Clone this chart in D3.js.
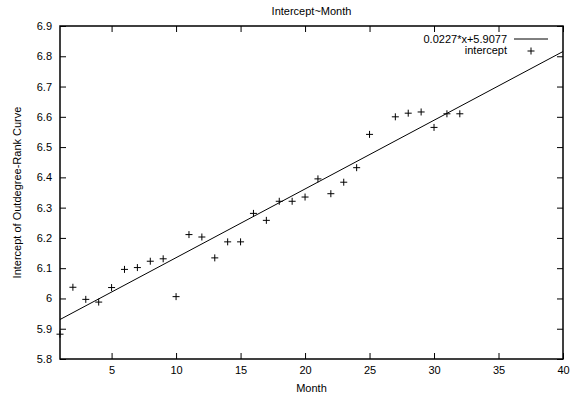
<!DOCTYPE html>
<html>
<head>
<meta charset="utf-8">
<script src="https://cdn.jsdelivr.net/npm/d3@7"></script>
<style>
  body { margin: 0; background: #fff; }
  svg text { font-family: "Liberation Sans", Arial, sans-serif; font-size: 11px; fill: #000; }
</style>
</head>
<body>
<svg id="chart" width="573" height="396"></svg>
<script>
// months and fitted intercepts
var months = [1, 2, 3, 4, 5, 6, 7, 8, 9, 10, 11, 12, 13, 14, 15, 16, 17, 18, 19, 20, 21, 22, 23, 24, 25, 27, 28, 29, 30, 31, 32];
var intercepts = [5.882, 6.037, 5.997, 5.988, 6.036, 6.096, 6.102, 6.123, 6.131, 6.006, 6.211, 6.203, 6.134, 6.187, 6.187, 6.281, 6.258, 6.321, 6.321, 6.335, 6.395, 6.346, 6.384, 6.432, 6.542, 6.600, 6.612, 6.616, 6.565, 6.610, 6.610];
var fitSlope = 0.0227,
    fitIntercept = 5.9077;
var xTicks = [5, 10, 15, 20, 25, 30, 35, 40];
var yTicks = [5.8, 5.9, 6, 6.1, 6.2, 6.3, 6.4, 6.5, 6.6, 6.7, 6.8, 6.9];

(function() {
    var svg = d3.select('#chart'),
        pLeft = 60, pRight = 563, pTop = 26, pBottom = 359,
        tick = 6;

    var x = d3.scaleLinear().domain([1, 40]).range([pLeft, pRight]),
        y = d3.scaleLinear().domain([5.8, 6.9]).range([pBottom, pTop]);

    var fmt = function(v) { return String(+v.toFixed(1)); };

    // axes, gnuplot style: ticks mirrored inside the box
    svg.append('g').attr('transform', 'translate(0,' + pBottom + ')')
        .call(d3.axisBottom(x).tickValues(xTicks).tickSizeInner(-tick).tickSizeOuter(0).tickPadding(7).tickFormat(d3.format('d')));
    svg.append('g').attr('transform', 'translate(0,' + pTop + ')')
        .call(d3.axisTop(x).tickValues(xTicks).tickSizeInner(-tick).tickSizeOuter(0).tickFormat(''));
    svg.append('g').attr('transform', 'translate(' + pLeft + ',0)')
        .call(d3.axisLeft(y).tickValues(yTicks).tickSizeInner(-tick).tickSizeOuter(0).tickPadding(8).tickFormat(fmt));
    svg.append('g').attr('transform', 'translate(' + pRight + ',0)')
        .call(d3.axisRight(y).tickValues(yTicks).tickSizeInner(-tick).tickSizeOuter(0).tickFormat(''));

    svg.selectAll('.domain').remove();
    svg.selectAll('.tick line').attr('stroke', '#000').attr('stroke-width', 1);
    svg.selectAll('.tick text').attr('font-family', null).attr('font-size', null);

    svg.append('rect')
        .attr('x', pLeft).attr('y', pTop)
        .attr('width', pRight - pLeft).attr('height', pBottom - pTop)
        .attr('fill', 'none').attr('stroke', '#000').attr('stroke-width', 1.5);

    // fit line
    svg.append('line')
        .attr('x1', x(1)).attr('y1', y(fitSlope * 1 + fitIntercept))
        .attr('x2', x(40)).attr('y2', y(fitSlope * 40 + fitIntercept))
        .attr('stroke', '#000').attr('stroke-width', 1);

    // plus markers
    var plus = function(sel) {
        sel.append('line').attr('x1', -3.5).attr('x2', 3.5).attr('y1', 0).attr('y2', 0);
        sel.append('line').attr('x1', 0).attr('x2', 0).attr('y1', -3.5).attr('y2', 3.5);
    };
    svg.append('g').attr('stroke', '#000').attr('stroke-width', 1)
        .selectAll('g').data(months).enter().append('g')
        .attr('transform', function(d, i) { return 'translate(' + x(d) + ',' + y(intercepts[i]) + ')'; })
        .call(plus);

    // legend
    var legend = svg.append('g');
    legend.append('text').attr('x', 507).attr('y', 43).attr('text-anchor', 'end')
        .text(fitSlope + '*x+' + fitIntercept);
    legend.append('line').attr('x1', 514).attr('x2', 548).attr('y1', 39).attr('y2', 39)
        .attr('stroke', '#000').attr('stroke-width', 1);
    legend.append('text').attr('x', 507).attr('y', 54).attr('text-anchor', 'end').text('intercept');
    legend.append('g').attr('transform', 'translate(531,51)')
        .attr('stroke', '#000').attr('stroke-width', 1).call(plus);

    // titles
    svg.append('text').attr('x', (pLeft + pRight) / 2).attr('y', 15).attr('text-anchor', 'middle').text('Intercept~Month');
    svg.append('text').attr('x', (pLeft + pRight) / 2).attr('y', 392).attr('text-anchor', 'middle').text('Month');
    svg.append('text')
        .attr('transform', 'translate(21,' + ((pTop + pBottom) / 2) + ') rotate(-90)')
        .attr('text-anchor', 'middle').text('Intercept of Outdegree-Rank Curve');
})();
</script>
</body>
</html>
